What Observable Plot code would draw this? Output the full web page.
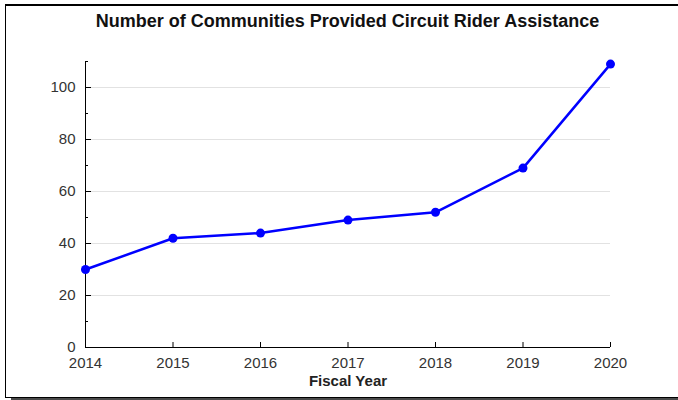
<!DOCTYPE html>
<html>
<head>
<meta charset="utf-8">
<script src="https://cdn.jsdelivr.net/npm/d3@7"></script>
<script src="https://cdn.jsdelivr.net/npm/@observablehq/plot@0.6"></script>
<style>
  html, body { margin: 0; padding: 0; background: #fff; }
  #wrap { position: relative; width: 678px; height: 400px; overflow: hidden; font-family: "Liberation Sans", Arial, sans-serif; }
  #frame { position: absolute; left: 5px; top: 4px; width: 720px; height: 391px;
           border-left: 1px solid #000; border-top: 2px solid #000; border-bottom: 1px solid #000;
           box-shadow: 6px 3px 0 #4a4a4a; background: #fff; }
  #title { position: absolute; left: 85px; right: 68px; top: 12px; line-height: 18px;
           text-align: center; font-size: 18px; font-weight: bold; color: #111; }
  #chart { position: absolute; left: 0; top: 0; }
</style>
</head>
<body>
<div id="wrap">
  <div id="frame"></div>
  <div id="chart"></div>
  <div id="title">Number of Communities Provided Circuit Rider Assistance</div>
</div>
<script>
const years = [2014, 2015, 2016, 2017, 2018, 2019, 2020];
const communities = [30, 42, 44, 49, 52, 69, 109];
const yMajorTicks = [0, 20, 40, 60, 80, 100];
const yMinorTicks = [10, 30, 50, 70, 90, 110];
const yGridTicks = [20, 40, 60, 80, 100];
const xLabel = "Fiscal Year";

const data = years.map((year, i) => ({year, value: communities[i]}));

const chart = Plot.plot({
  width: 678,
  height: 400,
  marginTop: 61,
  marginBottom: 53,
  marginLeft: 85,
  marginRight: 68,
  x: {domain: [2014, 2020], axis: null},
  y: {domain: [0, 110], axis: null},
  style: {fontFamily: "'Liberation Sans', Arial, sans-serif", fontSize: "15px", color: "#333", background: "transparent", overflow: "visible"},
  marks: [
    Plot.gridY(yGridTicks, {stroke: "#e2e2e2", strokeOpacity: 1, strokeWidth: 1}),
    Plot.axisY(yMajorTicks, {tickSize: 0, tickPadding: 10, fontSize: 15, fill: "#333", label: null}),
    Plot.axisY(yMajorTicks, {tickSize: -6, tickFormat: () => "", stroke: "#000", label: null}),
    Plot.axisY(yMinorTicks, {tickSize: -3, tickFormat: () => "", stroke: "#000", label: null}),
    Plot.axisX(years, {tickSize: 0, tickPadding: 10, fontSize: 15, fill: "#333", tickFormat: d => String(d), label: null}),
    Plot.axisX(years, {tickSize: -5, tickFormat: () => "", stroke: "#000", label: null}),
    Plot.ruleX([2014], {stroke: "#000", strokeWidth: 1}),
    Plot.ruleY([0], {stroke: "#000", strokeWidth: 1}),
    Plot.line(data, {x: "year", y: "value", stroke: "#0000ff", strokeWidth: 2.5}),
    Plot.dot(data, {x: "year", y: "value", r: 4.5, fill: "#0000ff", stroke: "none"}),
    Plot.text([xLabel], {frameAnchor: "bottom", dy: 38, fontWeight: "bold", fontSize: 15, fill: "#222"})
  ]
});
document.getElementById("chart").appendChild(chart);
</script>
</body>
</html>
